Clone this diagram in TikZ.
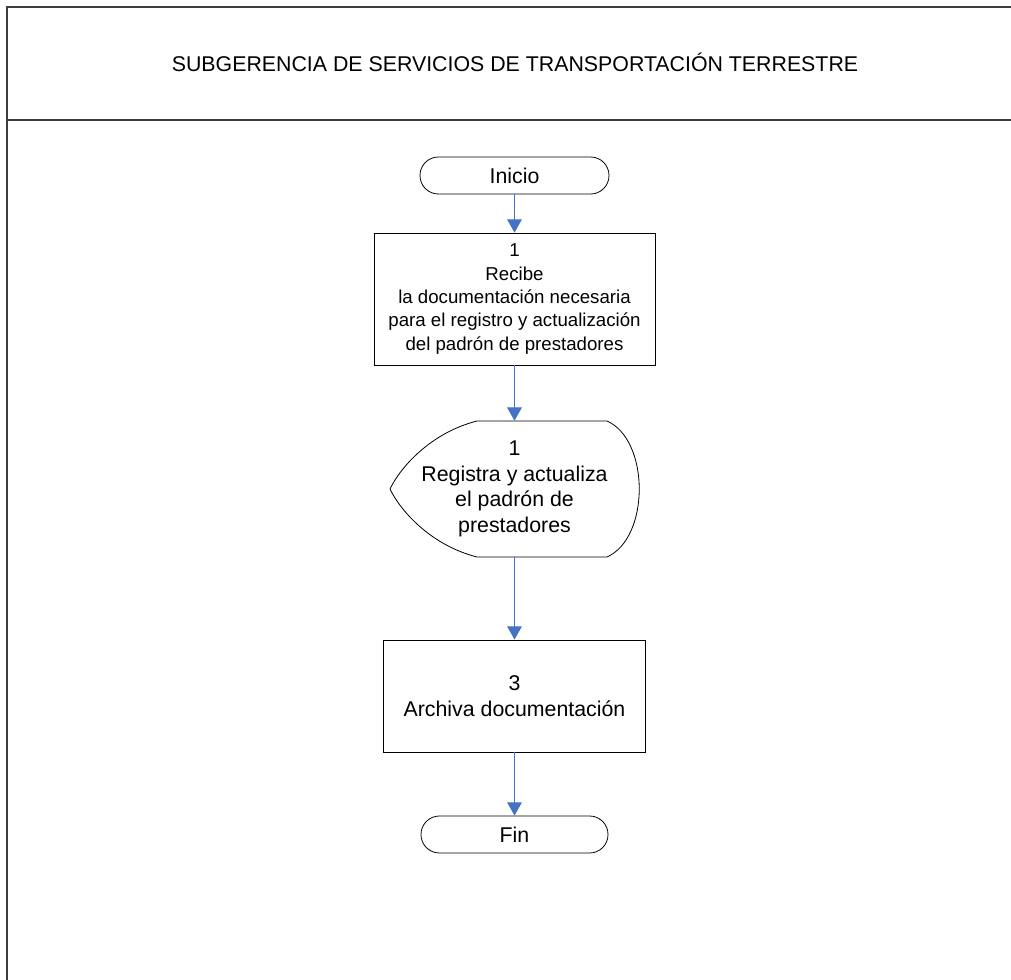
\documentclass[tikz,border=0pt]{standalone}
\usepackage{fontspec}
\setmainfont{Liberation Sans}
\usetikzlibrary{arrows.meta}

\definecolor{flecha}{RGB}{68,114,196}
\definecolor{marco}{RGB}{60,60,60}

\tikzset{
  inicio/.style={draw, rounded corners=13.8pt, minimum width=141.75pt,
    minimum height=27.75pt, line width=0.6pt, font=\fontsize{16}{19}\selectfont},
  caja/.style={draw, line width=0.6pt, align=center, inner sep=0pt},
  flujo/.style={draw=flecha, line width=0.9pt,
    -{Triangle[width=11pt,length=10pt]}}
}

\begin{document}
\begin{tikzpicture}[x=0.75pt, y=-0.75pt]

    % tamaño de la hoja
    \useasboundingbox (0,0) rectangle (1011,980);

    % marco y encabezado
    \draw[marco, line width=1.2pt] (1011,7) -- (7,7) -- (7,980);
    \draw[marco, line width=1.2pt] (7,120) -- (1011,120);
    \node (titulo) at (515,62) {\fontsize{16}{19}\selectfont SUBGERENCIA DE SERVICIOS DE TRANSPORTACIÓN TERRESTRE};

    % pasos del procedimiento
    \node[inicio] (ini) at (514.5,175.5) {Inicio};
    \node[caja, minimum width=210.75pt, minimum height=99pt,
      font=\fontsize{14}{17.5}\selectfont] (recibe) at (514.5,299)
      {1\\Recibe\\la documentación necesaria\\para el registro y actualización\\del padrón de prestadores};
    \node[align=center, inner sep=0pt, minimum width=189pt, minimum height=102pt,
      font=\fontsize{16}{19.3}\selectfont] (registra) at (514.5,489)
      {1\\Registra y actualiza\\el padrón de\\prestadores};
    \node[caja, minimum width=196.5pt, minimum height=84pt,
      font=\fontsize{16}{19.5}\selectfont] (archiva) at (514.5,696)
      {3\\Archiva documentación};
    \node[inicio, minimum width=140.25pt] (fin) at (514.5,834.5) {Fin};

    % contorno de la pantalla (registra)
    \draw[line width=0.6pt] (477,421) -- (607,421)
      .. controls (650,440) and (650,538) .. (607,557) -- (477,557)
      .. controls (430,545) and (400,510) .. (390,489)
      .. controls (400,468) and (430,433) .. (477,421) -- cycle;

    % flechas
    \draw[flujo] (ini) -- (recibe);
    \draw[flujo] (recibe) -- (registra.north);
    \draw[flujo] (registra.south) -- (archiva);
    \draw[flujo] (archiva) -- (fin);

\end{tikzpicture}
\end{document}
